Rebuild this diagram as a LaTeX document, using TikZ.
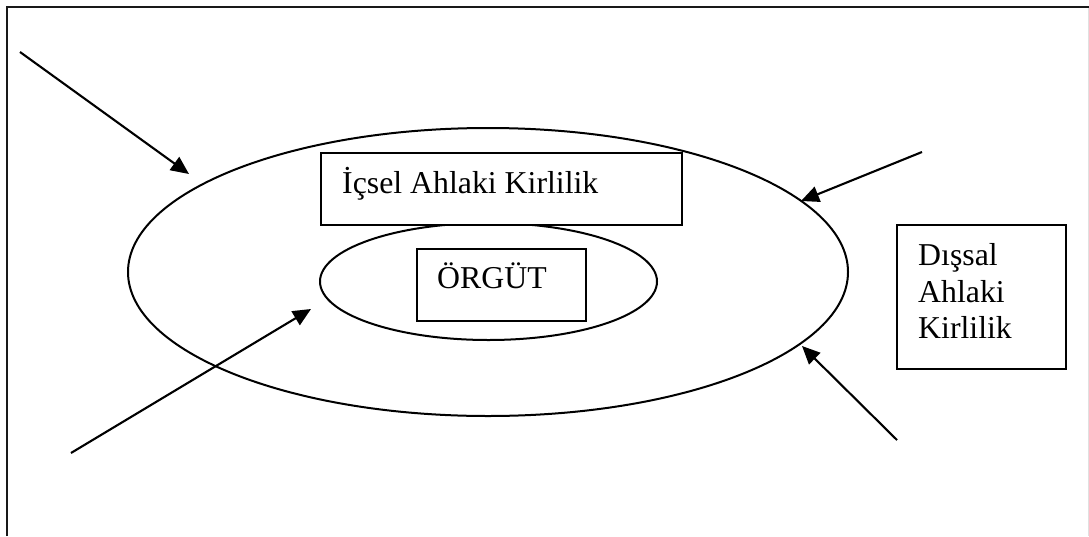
\documentclass[tikz,border=0pt]{standalone}
\usepackage{fontspec}
\setmainfont{Liberation Serif}
\usetikzlibrary{shapes.geometric,arrows.meta}
\begin{document}
\begin{tikzpicture}[x=1pt,y=-1pt,
  frameline/.style={line width=2.8pt,black!90},
  ring/.style={draw,ellipse,line width=2pt,inner sep=0pt},
  boxnode/.style={draw,fill=white,line width=1.8pt,inner sep=0pt,anchor=north west},
  lbl/.style={inner sep=0pt,anchor=base west,font=\fontsize{31.8}{36.6}\selectfont},
  arr/.style={line width=2.1pt,-{Triangle[length=18pt,width=16pt]}}]
\useasboundingbox (0,0) rectangle (1089,536);
% frame
\draw[frameline] (7,536) -- (7,7) -- (1089,7);
\draw[line width=1pt,black!12] (1088,8) -- (1088,536);
% ellipses
\node[ring,minimum width=720pt,minimum height=288pt] (outer) at (488,272) {};
\node[ring,minimum width=337pt,minimum height=117pt] (inner) at (488.5,281.5) {};
% boxes
\node[boxnode,minimum width=361pt,minimum height=72pt] (icbox) at (320,152) {};
\node[boxnode,minimum width=169pt,minimum height=72pt] (orbox) at (416,248) {};
\node[boxnode,minimum width=169pt,minimum height=144pt] (disbox) at (896,224) {};
% texts
\node[lbl] (ictext) at (342,193) {İçsel Ahlaki Kirlilik};
\node[lbl] (ortext) at (437,288) {ÖRGÜT};
\node[lbl] (dis1) at (918,265) {Dışsal};
\node[lbl] (dis2) at (918,302) {Ahlaki};
\node[lbl] (dis3) at (918,338) {Kirlilik};
% arrows
\coordinate (s1) at (20,52);   \coordinate (t1) at (189,174);
\coordinate (s2) at (922,152); \coordinate (t2) at (801,201);
\coordinate (s3) at (897,440); \coordinate (t3) at (802,346);
\coordinate (s4) at (71,453);  \coordinate (t4) at (311,309);
\draw[arr] (s1) -- (t1);
\draw[arr] (s2) -- (t2);
\draw[arr] (s3) -- (t3);
\draw[arr] (s4) -- (t4);
\end{tikzpicture}
\end{document}
